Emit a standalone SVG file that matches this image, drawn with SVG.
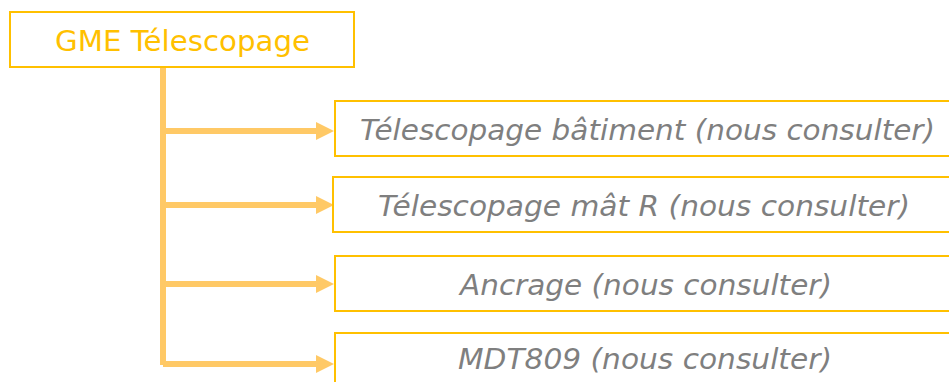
<svg xmlns="http://www.w3.org/2000/svg" width="949" height="382" viewBox="0 0 949 382">
<style>
.box{fill:#fff;stroke:#FFC000;stroke-width:2}
.t{font-family:"DejaVu Sans",Verdana,sans-serif;font-style:italic;font-size:28px;fill:#7F7F7F}
.h{font-family:"DejaVu Sans",Verdana,sans-serif;font-size:29px;fill:#FFC000}
.c{stroke:#FFC966;stroke-width:6;fill:none}
</style>
<g id="connectors">
<path class="c" d="M163,67 V365"/>
<path class="c" d="M163,131 H317"/>
<path class="c" d="M163,205 H317"/>
<path class="c" d="M163,284 H317"/>
<path class="c" d="M163,364 H317"/>
<g fill="#FFC966">
<path d="M316,122 L334,131 L316,140 z"/>
<path d="M316,196 L334,205 L316,214 z"/>
<path d="M316,275 L334,284 L316,293 z"/>
<path d="M316,355 L334,364 L316,373 z"/>
</g>
</g>
<g id="root">
<rect class="box" x="10" y="12" width="344" height="55"/>
<text class="h" x="55" y="51" textLength="255" lengthAdjust="spacingAndGlyphs">GME Télescopage</text>
</g>
<g id="n1">
<rect class="box" x="335" y="101" width="630" height="55"/>
<text class="t" x="360" y="140" textLength="575" lengthAdjust="spacingAndGlyphs">Télescopage bâtiment (nous consulter)</text>
</g>
<g id="n2">
<rect class="box" x="333" y="177" width="630" height="55"/>
<text class="t" x="378" y="216" textLength="532" lengthAdjust="spacingAndGlyphs">Télescopage mât R (nous consulter)</text>
</g>
<g id="n3">
<rect class="box" x="335" y="256" width="630" height="55"/>
<text class="t" x="460" y="295" textLength="372" lengthAdjust="spacingAndGlyphs">Ancrage (nous consulter)</text>
</g>
<g id="n4">
<rect class="box" x="335" y="333" width="630" height="60"/>
<text class="t" x="458" y="369" textLength="374" lengthAdjust="spacingAndGlyphs">MDT809 (nous consulter)</text>
</g>
</svg>
